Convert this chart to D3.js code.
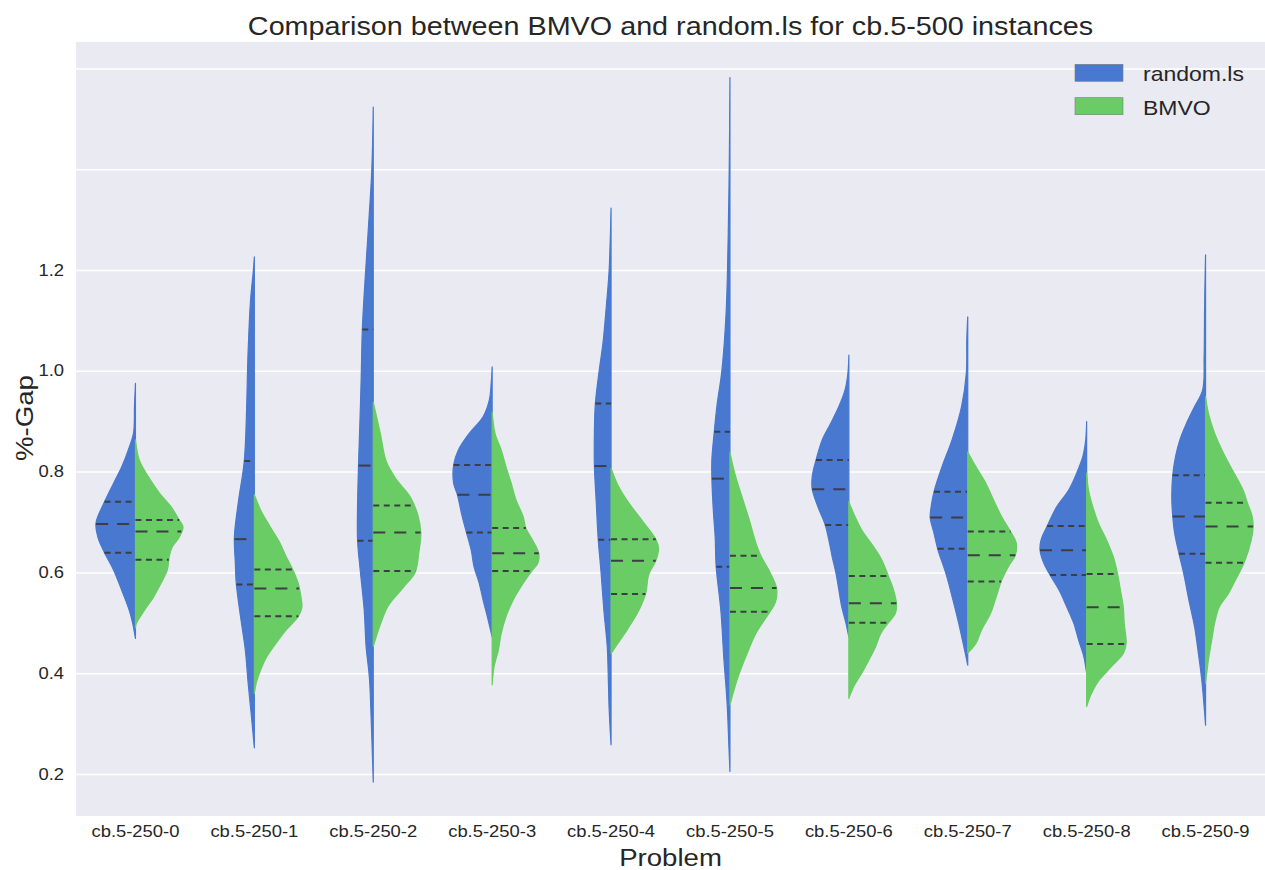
<!DOCTYPE html>
<html>
<head>
<meta charset="utf-8">
<script src="https://cdn.jsdelivr.net/npm/d3@7/dist/d3.min.js"></script>
<style>
  body { margin: 0; background: #fff; }
  text { font-family: "Liberation Sans", Arial, sans-serif; fill: #262626; }
</style>
</head>
<body>
<svg id="violin-graph" width="1265" height="870"></svg>
<script>
var problems = ["cb.5-250-0", "cb.5-250-1", "cb.5-250-2", "cb.5-250-3", "cb.5-250-4",
                "cb.5-250-5", "cb.5-250-6", "cb.5-250-7", "cb.5-250-8", "cb.5-250-9"];
var seriesNames = ["random.ls", "BMVO"];
var seriesColors = ["#4878CF", "#6ACC65"];
var gridTicks = [0.2, 0.4, 0.6, 0.8, 1.0, 1.2, 1.4, 1.6];
var labelTicks = [0.2, 0.4, 0.6, 0.8, 1.0, 1.2];

// estimated density outline of each half violin: [%-gap, relative density], bottom to top
var randomDensity = [
  [[0.469,0],[0.50,0.06],[0.525,0.13],[0.565,0.29],[0.605,0.46],[0.639,0.65],[0.670,0.79],[0.698,0.83],[0.740,0.65],[0.777,0.46],[0.809,0.29],[0.843,0.15],[0.877,0.04],[0.93,0.02],[0.975,0]],
  [[0.252,0],[0.313,0.06],[0.380,0.13],[0.446,0.19],[0.512,0.29],[0.578,0.38],[0.619,0.40],[0.670,0.42],[0.744,0.33],[0.823,0.21],[1.041,0.13],[1.14,0.08],[1.2,0.02],[1.226,0]],
  [[0.184,0],[0.30,0.04],[0.39,0.08],[0.453,0.15],[0.525,0.19],[0.601,0.27],[0.664,0.33],[0.731,0.33],[0.812,0.31],[0.929,0.27],[1.0,0.25],[1.082,0.23],[1.153,0.19],[1.287,0.10],[1.4,0.03],[1.523,0]],
  [[0.472,0],[0.512,0.10],[0.545,0.19],[0.578,0.27],[0.611,0.38],[0.644,0.44],[0.679,0.54],[0.711,0.63],[0.754,0.73],[0.777,0.81],[0.813,0.81],[0.843,0.71],[0.876,0.48],[0.909,0.19],[0.942,0.06],[0.975,0.02],[1.008,0]],
  [[0.258,0],[0.329,0.04],[0.40,0.06],[0.453,0.08],[0.524,0.15],[0.60,0.21],[0.666,0.27],[0.737,0.31],[0.811,0.35],[0.879,0.35],[0.935,0.33],[1.0,0.25],[1.055,0.17],[1.127,0.10],[1.2,0.04],[1.323,0]],
  [[0.205,0],[0.25,0.02],[0.341,0.06],[0.432,0.13],[0.523,0.19],[0.612,0.29],[0.669,0.31],[0.724,0.35],[0.786,0.38],[0.824,0.38],[0.879,0.33],[0.933,0.27],[1.0,0.17],[1.116,0.08],[1.252,0.04],[1.4,0.015],[1.582,0]],
  [[0.472,0],[0.499,0.06],[0.532,0.15],[0.565,0.21],[0.598,0.27],[0.631,0.35],[0.664,0.42],[0.695,0.50],[0.73,0.65],[0.765,0.77],[0.79,0.77],[0.823,0.69],[0.863,0.56],[0.896,0.38],[0.929,0.21],[0.962,0.08],[0.995,0.02],[1.031,0]],
  [[0.416,0],[0.452,0.08],[0.499,0.19],[0.545,0.31],[0.598,0.46],[0.646,0.63],[0.678,0.71],[0.709,0.79],[0.73,0.77],[0.76,0.71],[0.81,0.54],[0.863,0.33],[0.929,0.13],[0.995,0.03],[1.061,0.02],[1.107,0]],
  [[0.40,0],[0.433,0.06],[0.466,0.17],[0.499,0.27],[0.532,0.42],[0.565,0.58],[0.595,0.77],[0.618,0.90],[0.644,0.98],[0.664,0.96],[0.692,0.83],[0.73,0.63],[0.763,0.38],[0.797,0.21],[0.83,0.08],[0.863,0.02],[0.899,0]],
  [[0.297,0],[0.334,0.03],[0.387,0.08],[0.439,0.15],[0.492,0.23],[0.545,0.35],[0.598,0.46],[0.638,0.56],[0.678,0.65],[0.711,0.69],[0.75,0.71],[0.793,0.69],[0.83,0.63],[0.863,0.54],[0.896,0.40],[0.929,0.23],[0.962,0.06],[1.028,0.03],[1.127,0.02],[1.23,0]]
];
var bmvoDensity = [
  [[0.49,0],[0.499,0.02],[0.525,0.19],[0.551,0.38],[0.579,0.54],[0.605,0.67],[0.631,0.71],[0.65,0.77],[0.670,0.92],[0.690,1.0],[0.704,0.92],[0.730,0.75],[0.758,0.50],[0.79,0.27],[0.823,0.08],[0.863,0]],
  [[0.36,0],[0.381,0.04],[0.406,0.13],[0.431,0.25],[0.460,0.46],[0.486,0.67],[0.512,0.92],[0.531,1.0],[0.551,0.98],[0.579,0.92],[0.605,0.81],[0.631,0.67],[0.658,0.54],[0.691,0.33],[0.724,0.13],[0.754,0]],
  [[0.453,0],[0.497,0.15],[0.533,0.31],[0.57,0.63],[0.60,0.88],[0.641,0.96],[0.677,1.0],[0.713,0.94],[0.751,0.77],[0.785,0.48],[0.821,0.27],[0.875,0.15],[0.938,0]],
  [[0.377,0],[0.413,0.04],[0.446,0.13],[0.479,0.19],[0.512,0.29],[0.545,0.44],[0.578,0.65],[0.605,0.85],[0.618,0.96],[0.638,0.98],[0.664,0.85],[0.687,0.71],[0.711,0.65],[0.744,0.50],[0.777,0.40],[0.81,0.29],[0.843,0.19],[0.876,0.06],[0.918,0]],
  [[0.439,0],[0.46,0.15],[0.488,0.35],[0.524,0.58],[0.559,0.73],[0.595,0.79],[0.623,0.94],[0.648,1.0],[0.666,0.94],[0.701,0.67],[0.737,0.38],[0.772,0.15],[0.807,0]],
  [[0.337,0],[0.387,0.15],[0.432,0.33],[0.478,0.54],[0.523,0.85],[0.542,0.96],[0.569,0.98],[0.606,0.81],[0.633,0.65],[0.66,0.54],[0.706,0.40],[0.751,0.25],[0.797,0.10],[0.838,0]],
  [[0.35,0],[0.373,0.10],[0.40,0.27],[0.426,0.42],[0.452,0.56],[0.479,0.67],[0.50,0.83],[0.519,0.98],[0.539,1.0],[0.565,0.94],[0.593,0.83],[0.625,0.69],[0.651,0.52],[0.684,0.27],[0.717,0.10],[0.74,0]],
  [[0.44,0],[0.459,0.17],[0.486,0.29],[0.519,0.48],[0.552,0.60],[0.584,0.71],[0.611,0.85],[0.634,1.0],[0.658,1.02],[0.681,0.90],[0.711,0.71],[0.744,0.54],[0.777,0.38],[0.81,0.17],[0.839,0]],
  [[0.334,0],[0.36,0.10],[0.387,0.27],[0.413,0.52],[0.439,0.77],[0.459,0.83],[0.499,0.79],[0.531,0.77],[0.565,0.71],[0.597,0.65],[0.631,0.56],[0.664,0.42],[0.697,0.25],[0.73,0.13],[0.763,0.04],[0.797,0]],
  [[0.38,0],[0.426,0.06],[0.466,0.13],[0.499,0.19],[0.532,0.29],[0.558,0.48],[0.585,0.63],[0.619,0.81],[0.664,0.96],[0.691,1.0],[0.711,0.98],[0.738,0.88],[0.763,0.79],[0.797,0.60],[0.836,0.38],[0.876,0.19],[0.916,0.06],[0.949,0]]
];

// [q1, median, q3] per problem
var randomQuartiles = [[0.639,0.696,0.740],[0.576,0.666,0.821],[0.663,0.812,1.082],[0.679,0.754,0.813],[0.665,0.811,0.935],
                       [0.611,0.786,0.879],[0.694,0.765,0.823],[0.647,0.709,0.760],[0.595,0.644,0.692],[0.637,0.711,0.793]];
var bmvoQuartiles = [[0.625,0.681,0.704],[0.513,0.568,0.606],[0.603,0.679,0.733],[0.603,0.638,0.688],[0.557,0.623,0.666],
                     [0.522,0.569,0.633],[0.500,0.539,0.593],[0.582,0.634,0.681],[0.458,0.531,0.597],[0.619,0.691,0.738]];

var svg = d3.select("#violin-graph"),
    margin = {top: 42, right: 0, bottom: 54, left: 76},
    width = +svg.attr("width") - margin.left - margin.right,
    height = +svg.attr("height") - margin.top - margin.bottom,
    g = svg.append("g").attr("transform", "translate(" + margin.left + "," + margin.top + ")");

var sx = 1.15; // text in the source figure is slightly stretched horizontally

var x = d3.scaleBand().domain(problems).range([0, width]);
var y = d3.scaleLinear().domain([0.1167, 1.6524]).range([height, 0]);
var half = d3.scaleLinear().domain([0, 1]).range([0, x.bandwidth() * 0.4]);

g.append("rect")
    .attr("width", width)
    .attr("height", height)
    .attr("fill", "#EAEAF2");

var yAxis = d3.axisLeft(y)
    .tickValues(gridTicks)
    .tickSize(-width)
    .tickFormat(function(d) { return labelTicks.indexOf(d) >= 0 ? d3.format(".1f")(d) : ""; });

var xAxis = d3.axisBottom(x).tickSize(0);

g.append("g").call(customYAxis);
g.append("g").attr("transform", "translate(0," + height + ")").call(customXAxis);

function customYAxis(a) {
  a.call(yAxis);
  a.select(".domain").remove();
  a.selectAll(".tick line").attr("stroke", "#fff").attr("stroke-width", 1.5);
  a.selectAll(".tick text").attr("x", -12 / sx).attr("transform", "scale(" + sx + ",1)")
      .attr("font-size", 16).attr("fill", "#262626").attr("font-family", "Liberation Sans, Arial, sans-serif");
}

function customXAxis(a) {
  a.call(xAxis);
  a.select(".domain").remove();
  a.selectAll(".tick text").attr("y", 10).attr("transform", "scale(" + sx + ",1)")
      .attr("font-size", 16).attr("fill", "#262626").attr("font-family", "Liberation Sans, Arial, sans-serif");
}

function densityAt(profile, v) {
  for (var i = 1; i < profile.length; i++) {
    if (v <= profile[i][0]) {
      var a = profile[i - 1], b = profile[i];
      return a[1] + (v - a[0]) / (b[0] - a[0]) * (b[1] - a[1]);
    }
  }
  return 0;
}

function drawHalf(cx, profile, quartiles, side, color) {
  var area = d3.area()
      .curve(d3.curveCatmullRom)
      .y(function(d) { return y(d[0]); })
      .x0(function(d) { return side < 0 ? cx - half(d[1]) : cx; })
      .x1(function(d) { return side < 0 ? cx : cx + half(d[1]); });

  g.append("path")
      .datum(profile)
      .attr("fill", color)
      .attr("stroke", color)
      .attr("stroke-width", 1.2)
      .attr("stroke-linejoin", "round")
      .attr("d", area);

  quartiles.forEach(function(q, i) {
    var w = half(densityAt(profile, q));
    g.append("line")
        .attr("x1", side < 0 ? cx - w : cx)
        .attr("x2", side < 0 ? cx : cx + w)
        .attr("y1", y(q))
        .attr("y2", y(q))
        .attr("stroke", "#3d3d45")
        .attr("stroke-width", 2)
        .attr("stroke-dasharray", i === 1 ? "12,9" : "6,4.5");
  });
}

problems.forEach(function(p, i) {
  var cx = x(p) + x.bandwidth() / 2;
  drawHalf(cx, randomDensity[i], randomQuartiles[i], -1, seriesColors[0]);
  drawHalf(cx, bmvoDensity[i], bmvoQuartiles[i], 1, seriesColors[1]);
});

// legend
var legend = g.selectAll(".legend")
    .data(seriesNames)
    .enter().append("g")
    .attr("transform", function(d, i) { return "translate(" + (width - 190) + "," + (22.3 + i * 33.4) + ")"; });

legend.append("rect")
    .attr("width", 48)
    .attr("height", 17)
    .attr("fill", function(d, i) { return seriesColors[i]; })
    .attr("stroke", "#7a7a7a")
    .attr("stroke-width", 0.6);

legend.append("text")
    .attr("transform", "translate(68,17) scale(" + sx + ",1)")
    .attr("font-size", 20)
    .text(function(d) { return d; });

// titles
svg.append("text")
    .attr("transform", "translate(" + (margin.left + width / 2) + ",35) scale(" + sx + ",1)")
    .attr("text-anchor", "middle")
    .attr("font-size", 25)
    .text("Comparison between BMVO and random.ls for cb.5-500 instances");

svg.append("text")
    .attr("transform", "translate(" + (margin.left + width / 2) + ",866) scale(" + sx + ",1)")
    .attr("text-anchor", "middle")
    .attr("font-size", 24)
    .text("Problem");

svg.append("text")
    .attr("transform", "translate(33,418) rotate(-90) scale(" + sx + ",1)")
    .attr("text-anchor", "middle")
    .attr("font-size", 24)
    .text("%-Gap");
</script>
</body>
</html>
